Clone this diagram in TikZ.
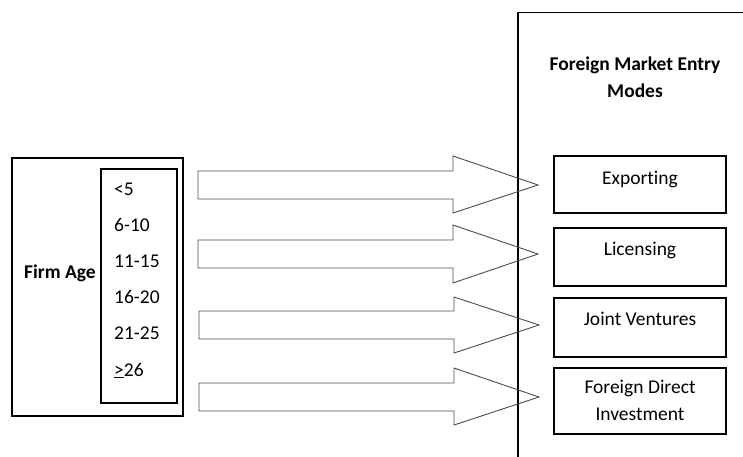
\documentclass[tikz,border=0pt]{standalone}
\usepackage{fontspec}
\setmainfont[Ligatures=CommonOff]{Carlito}
\begin{document}
\begin{tikzpicture}[x=1pt,y=-1pt,
  box/.style={draw=black,line width=1.5pt},
  blockarrow/.style={draw=black!70,line width=0.9pt,line join=miter},
  txt/.style={inner sep=0pt,font=\fontsize{19.5}{27}\selectfont},
  bold/.style={txt,font=\fontsize{19.5}{27}\selectfont\bfseries}]
\useasboundingbox (0,0) rectangle (743,456);
% left boxes
\draw[box] (12,158) rectangle (183,416);
\draw[box] (101,169) rectangle (177,403);
\node[bold,anchor=base] (firmage) at (60,278) {Firm Age};
\node[txt,anchor=base west] (a1) at (114,195) {<5};
\node[txt,anchor=base west] (a2) at (114,231.2) {6-10};
\node[txt,anchor=base west] (a3) at (114,267.4) {11-15};
\node[txt,anchor=base west] (a4) at (114,303.6) {16-20};
\node[txt,anchor=base west] (a5) at (114,339.8) {21-25};
\node[txt,anchor=base west] (a6) at (114,376) {\underline{>}26};
% right big box
\draw[box] (518,460) -- (518,12.5) -- (745,12.5);
\node[bold,anchor=base] (title1) at (635,70) {Foreign Market Entry};
\node[bold,anchor=base] (title2) at (635,97) {Modes};
% mode boxes
\draw[box] (554,156) rectangle (726,213);
\draw[box] (554,228) rectangle (726,286);
\draw[box] (554,298) rectangle (726,357);
\draw[box] (554,368) rectangle (726,434);
\node[txt,anchor=base] (m1) at (640,184) {Exporting};
\node[txt,anchor=base] (m2) at (640,255) {Licensing};
\node[txt,anchor=base] (m3) at (640,325) {Joint Ventures};
\node[txt,anchor=base] (m4a) at (640,393) {Foreign Direct};
\node[txt,anchor=base] (m4b) at (640,420) {Investment};
% block arrows
\draw[blockarrow] (198,171) -- (453,171) -- (453,156) -- (538,185) -- (453,213) -- (453,199) -- (198,199) -- cycle;
\draw[blockarrow] (198,240) -- (453,240) -- (453,225) -- (538,254) -- (453,283) -- (453,268) -- (198,268) -- cycle;
\draw[blockarrow] (199,311) -- (454,311) -- (454,297) -- (539,325) -- (454,353) -- (454,339) -- (199,339) -- cycle;
\draw[blockarrow] (199,383) -- (454,383) -- (454,368) -- (539,397) -- (454,425) -- (454,411) -- (199,411) -- cycle;
\end{tikzpicture}
\end{document}
